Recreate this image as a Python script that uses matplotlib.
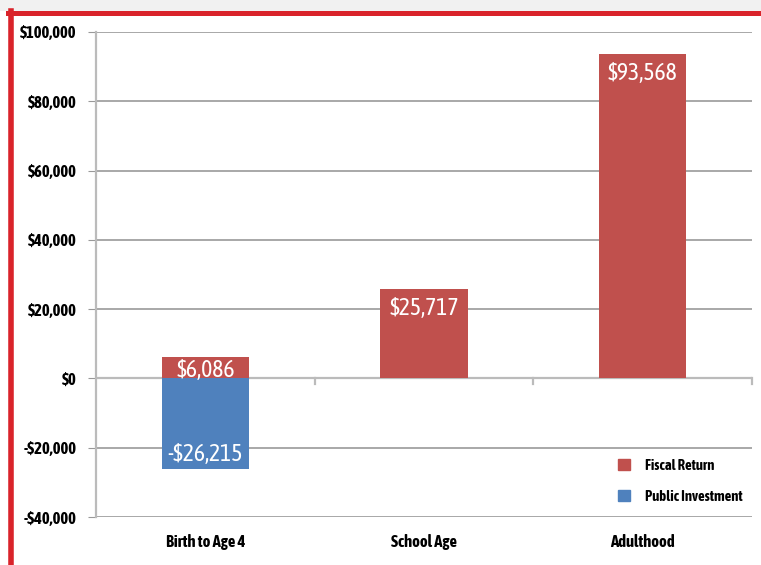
import matplotlib.pyplot as plt
from matplotlib import font_manager
from matplotlib.lines import Line2D
from matplotlib.patches import Patch, Rectangle

# data
categories = ["Birth to Age 4", "School Age", "Adulthood"]
fiscal_return = [6086, 25717, 93568]
public_investment = [-26215, 0, 0]
yticks = [-40000, -20000, 0, 20000, 40000, 60000, 80000, 100000]

red = "#c0504d"
blue = "#4f81bd"


def is_bold(w):
    return w in ("bold", "semibold", "demibold", "heavy", "black", "extra bold") or (
        isinstance(w, int) and w >= 600)


# pick a narrow face if one is installed, preferably one with a bold cut
fonts = font_manager.fontManager.ttflist
narrow = sorted({f.name for f in fonts if "Narrow" in f.name or "Condensed" in f.name})
narrow_bold = [n for n in narrow if any(f.name == n and is_bold(f.weight) for f in fonts)]
if narrow_bold:
    plt.rcParams['font.family'] = [narrow_bold[0], 'DejaVu Sans']
elif narrow:
    plt.rcParams['font.family'] = [narrow[0], 'DejaVu Sans']
else:
    plt.rcParams['font.family'] = ['DejaVu Sans']
sz = 12

W, H = 761, 565
fig = plt.figure(figsize=(W / 100, H / 100), dpi=100)
ax = fig.add_axes([96 / W, 1 - 517 / H, (752 - 96) / W, (517 - 32) / H])

x = range(len(categories))
ax.bar(x, fiscal_return, width=0.4, color=red, zorder=3)
inv_x = [i for i, v in enumerate(public_investment) if v != 0]
inv_v = [v for v in public_investment if v != 0]
ax.bar(inv_x, inv_v, width=0.4, color=blue, zorder=3)

lab = 17
for i, v in enumerate(fiscal_return):
    if v > 20000:
        ax.annotate(f"${v:,}", (i, v), xytext=(0, -22), textcoords="offset points",
                    ha="center", va="bottom", color="white", fontsize=lab, zorder=4)
    else:
        ax.text(i, v / 2, f"${v:,}", ha="center", va="center_baseline", color="white",
                fontsize=lab, zorder=4)
for i, v in zip(inv_x, inv_v):
    ax.annotate(f"-${abs(v):,}", (i, v), xytext=(0, 2), textcoords="offset points",
                ha="center", va="bottom", color="white", fontsize=lab, zorder=4)

ax.set_xlim(-0.5, 2.5)
ax.set_ylim(-40000, 100000)
ax.set_yticks(yticks)
ax.set_yticklabels([("-$" if t < 0 else "$") + f"{abs(t):,}" for t in yticks],
                   fontsize=sz, fontweight="bold")
ax.tick_params(axis="y", length=6, color="#999999", pad=8)
for t in yticks:
    if t != 0:
        ax.axhline(t, color="#999999", lw=1.2, zorder=1)
ax.axhline(0, color="#bbbbbb", lw=1.6, zorder=2)
for b in [0.5, 1.5, 2.5]:
    ax.plot([b, b], [0, -1500], color="#bbbbbb", lw=1.6, zorder=2, clip_on=False)

ax.set_xticks(list(x))
ax.set_xticklabels(categories, fontsize=sz, fontweight="bold")
ax.tick_params(axis="x", length=0, pad=12)

for s in ["top", "right", "bottom"]:
    ax.spines[s].set_visible(False)
ax.spines["left"].set_color("#bbbbbb")
ax.spines["left"].set_linewidth(1.6)

handles = [Patch(color=red), Patch(color=blue)]
ax.legend(handles, ["Fiscal Return", "Public Investment"], loc="lower left",
          frameon=False, prop={"weight": "bold", "size": 10.5},
          handlelength=0.8, handleheight=0.8, handletextpad=1.0,
          labelspacing=1.15, borderpad=0,
          bbox_to_anchor=((611 - 96) / 656, 6 / 485))

# light band above the frame, then the red frame on top and left
fig.add_artist(Rectangle((0, 1 - 11 / H), 1, 11 / H, transform=fig.transFigure,
                         color="#f1f1f1", lw=0, zorder=0))
fig.add_artist(Line2D([8 / W, 1], [1 - 13 / H, 1 - 13 / H], color="#d9232a", lw=3.6))
fig.add_artist(Line2D([10.5 / W, 10.5 / W], [0, 1 - 11 / H], color="#d9232a", lw=4))

fig.savefig("out.png", dpi=100)
